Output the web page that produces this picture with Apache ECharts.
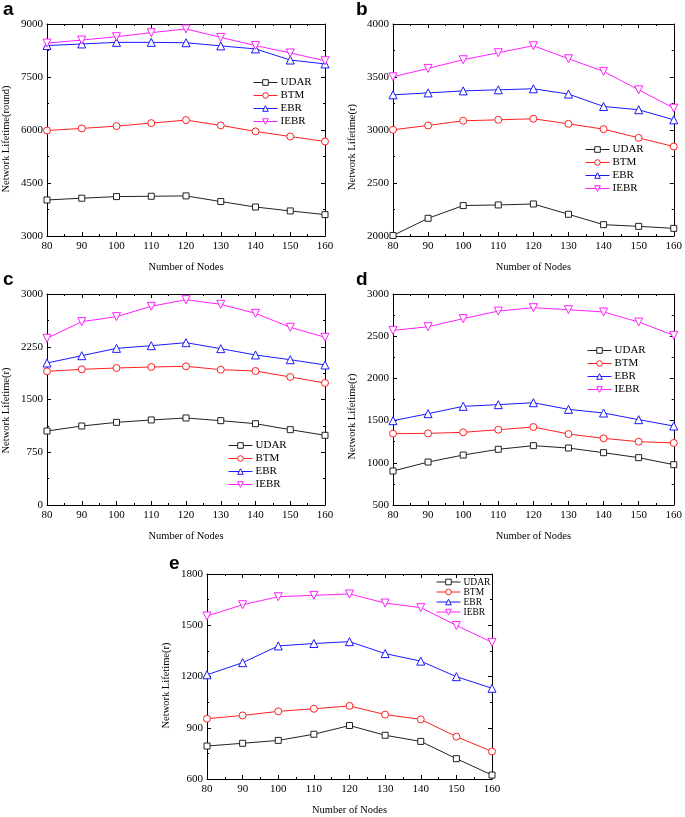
<!DOCTYPE html>
<html>
<head>
<meta charset="utf-8">
<script src="https://cdn.jsdelivr.net/npm/echarts@6/dist/echarts.min.js"></script>
<style>html,body{margin:0;padding:0;background:#fff;}#c{width:685px;height:817px;}</style>
</head>
<body>
<div id="c"></div>
<script>
const nodes = [80, 90, 100, 110, 120, 130, 140, 150, 160];
const seriesNames = ['UDAR', 'BTM', 'EBR', 'IEBR'];
const xTicks = [80, 90, 100, 110, 120, 130, 140, 150, 160];

// panel a
const aUDAR = [4020, 4070, 4115, 4125, 4135, 3975, 3820, 3710, 3605];
const aBTM  = [5985, 6045, 6110, 6195, 6280, 6130, 5960, 5815, 5675];
const aEBR  = [8390, 8435, 8480, 8480, 8470, 8380, 8295, 7980, 7870];
const aIEBR = [8460, 8545, 8640, 8755, 8860, 8620, 8390, 8180, 7960];
const aYTicks = [3000, 4500, 6000, 7500, 9000];
// panel b
const bUDAR = [2005, 2167, 2287, 2293, 2302, 2205, 2107, 2091, 2072];
const bBTM  = [3002, 3043, 3087, 3096, 3106, 3058, 3008, 2926, 2844];
const bEBR  = [3332, 3350, 3369, 3379, 3389, 3339, 3222, 3191, 3096];
const bIEBR = [3502, 3581, 3663, 3729, 3795, 3672, 3553, 3379, 3206];
const bYTicks = [2000, 2500, 3000, 3500, 4000];
// panel c
const cUDAR = [1052, 1123, 1175, 1209, 1237, 1199, 1156, 1071, 991];
const cBTM  = [1900, 1929, 1948, 1962, 1972, 1924, 1905, 1820, 1735];
const cEBR  = [2019, 2123, 2227, 2265, 2308, 2223, 2133, 2066, 1991];
const cIEBR = [2370, 2607, 2678, 2825, 2919, 2853, 2725, 2526, 2384];
const cYTicks = [0, 750, 1500, 2250, 3000];
// panel d
const dUDAR = [903, 1009, 1092, 1160, 1203, 1175, 1120, 1061, 978];
const dBTM  = [1345, 1349, 1361, 1392, 1424, 1341, 1290, 1250, 1235];
const dEBR  = [1499, 1582, 1669, 1689, 1712, 1633, 1590, 1511, 1436];
const dIEBR = [2569, 2612, 2708, 2798, 2838, 2814, 2787, 2668, 2510];
const dYTicks = [500, 1000, 1500, 2000, 2500, 3000];
// panel e
const eUDAR = [793, 809, 826, 862, 913, 856, 820, 719, 623];
const eBTM  = [953, 972, 996, 1011, 1028, 977, 949, 848, 761];
const eEBR  = [1210, 1281, 1379, 1393, 1404, 1334, 1290, 1199, 1131];
const eIEBR = [1554, 1620, 1667, 1675, 1683, 1630, 1603, 1499, 1400];
const eYTicks = [600, 900, 1200, 1500, 1800];

const FONT = "'Liberation Serif','Times New Roman',serif";
const colors = ['#222222', '#ff2020', '#1a1aff', '#ff20ff'];
const symbols = ['rect', 'circle', 'triangle', 'path://M0,0 L10,0 L5,8.66 Z'];
const symSizes = [6, 7, 8, 8];

const panels = [
  {label: 'a', labelPos: [3, 0], grid: {left: 41, top: 24, width: 284, height: 212}, yTicks: aYTicks,
   yName: 'Network Lifetime(round)', yShift: 9, data: [aUDAR, aBTM, aEBR, aIEBR],
   legend: {left: 253, top: 77, gap: 2, font: 11}},
  {label: 'b', labelPos: [356, 0], grid: {left: 393, top: 24, width: 284, height: 212}, yTicks: bYTicks,
   yName: 'Network Lifetime(r)', yShift: 17, data: [bUDAR, bBTM, bEBR, bIEBR],
   legend: {left: 585, top: 144, gap: 2, font: 11}},
  {label: 'c', labelPos: [3, 270], grid: {left: 41, top: 294, width: 284, height: 211}, yTicks: cYTicks,
   yName: 'Network Lifetime(r)', yShift: 11, data: [cUDAR, cBTM, cEBR, cIEBR],
   legend: {left: 228, top: 440, gap: 2, font: 11}},
  {label: 'd', labelPos: [356, 270], grid: {left: 393, top: 294, width: 284, height: 211}, yTicks: dYTicks,
   yName: 'Network Lifetime(r)', yShift: 17, data: [dUDAR, dBTM, dEBR, dIEBR],
   legend: {left: 587, top: 345, gap: 2, font: 11}},
  {label: 'e', labelPos: [169, 554], grid: {left: 207, top: 574, width: 285, height: 211}, yTicks: eYTicks,
   yName: 'Network Lifetime(r)', yShift: 9, data: [eUDAR, eBTM, eEBR, eIEBR],
   legend: {left: 436, top: 577, gap: 0, font: 9.5}}
];

const option = {
  backgroundColor: '#fff',
  animation: false,
  grid: [], xAxis: [], yAxis: [], series: [], legend: [], graphic: []
};

panels.forEach((p, i) => {
  option.grid.push(Object.assign({show: false}, p.grid));
  const yMin = p.yTicks[0], yMax = p.yTicks[p.yTicks.length - 1];
  const yInt = p.yTicks[1] - p.yTicks[0];
  const common = {
    axisLine: {show: true, onZero: false, lineStyle: {color: '#000', width: 1}},
    axisTick: {show: true, inside: true, length: 4, lineStyle: {color: '#000'}},
    minorTick: {show: true, splitNumber: 2, length: 2, lineStyle: {color: '#000'}},
    splitLine: {show: false}
  };
  option.xAxis.push(Object.assign({
    type: 'value', gridIndex: i, position: 'bottom', min: xTicks[0], max: xTicks[xTicks.length - 1], interval: 10,
    name: 'Number of Nodes', nameLocation: 'middle', nameGap: 26,
    nameTextStyle: {fontFamily: FONT, fontSize: 10.5, color: '#000'},
    axisLabel: {fontFamily: FONT, fontSize: 11, color: '#000', margin: 5, formatter: v => String(v)}
  }, common));
  option.xAxis.push(Object.assign({
    type: 'value', gridIndex: i, position: 'top', min: xTicks[0], max: xTicks[xTicks.length - 1], interval: 10,
    axisLabel: {show: false}
  }, common));
  option.yAxis.push(Object.assign({
    type: 'value', gridIndex: i, position: 'left', min: yMin, max: yMax, interval: yInt,
    name: p.yName, nameLocation: 'middle', nameGap: 35,
    nameTextStyle: {fontFamily: FONT, fontSize: 10.5, color: '#000', padding: [0, 2 * p.yShift, 0, 0]},
    axisLabel: {fontFamily: FONT, fontSize: 11, color: '#000', margin: 4, formatter: v => String(v)}
  }, common));
  option.yAxis.push(Object.assign({
    type: 'value', gridIndex: i, position: 'right', min: yMin, max: yMax, interval: yInt,
    axisLabel: {show: false}
  }, common));

  seriesNames.forEach((nm, k) => {
    option.series.push({
      type: 'line', name: nm, xAxisIndex: 2 * i, yAxisIndex: 2 * i,
      data: nodes.map((x, j) => [x, p.data[k][j]]),
      symbol: symbols[k], symbolSize: symSizes[k], showSymbol: true,
      lineStyle: {color: colors[k], width: 1},
      itemStyle: {color: '#fff', borderColor: colors[k], borderWidth: 1},
      emphasis: {disabled: true}
    });
  });

  option.legend.push({
    orient: 'vertical', left: p.legend.left, top: p.legend.top,
    itemWidth: 24, itemHeight: 7, itemGap: p.legend.gap,
    padding: 0,
    data: seriesNames,
    itemStyle: {borderWidth: 1},
    lineStyle: {width: 1},
    textStyle: {fontFamily: FONT, fontSize: p.legend.font, color: '#000', padding: [0, 0, 0, -2]},
    selectedMode: false
  });

  option.graphic.push({
    type: 'text', left: p.labelPos[0], top: p.labelPos[1],
    style: {text: p.label, font: "bold 19px 'Liberation Sans', Arial, sans-serif", fill: '#000'}
  });
});

const chart = echarts.init(document.getElementById('c'), null, {renderer: 'canvas'});
chart.setOption(option);
</script>
</body>
</html>
